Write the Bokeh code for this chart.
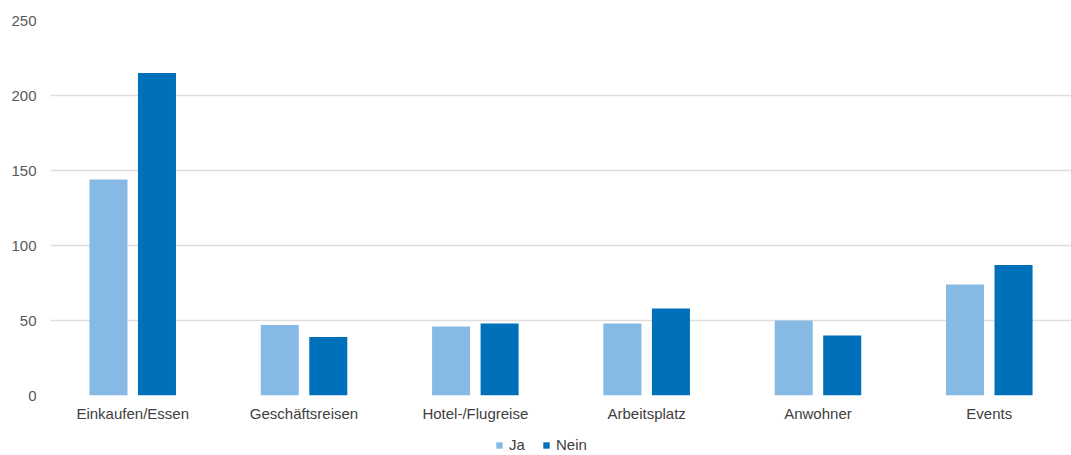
from bokeh.plotting import figure
from bokeh.layouts import column
from bokeh.models import ColumnDataSource, FactorRange, Legend, LegendItem, SingleIntervalTicker
from bokeh.transform import dodge
from bokeh.embed import file_html
from bokeh.resources import INLINE

categories = ["Einkaufen/Essen", "Geschäftsreisen", "Hotel-/Flugreise", "Arbeitsplatz", "Anwohner", "Events"]
ja = [144, 47, 46, 48, 50, 74]
nein = [215, 39, 48, 58, 40, 87]
series_names = ["Ja", "Nein"]

FONT = "Liberation Sans"
FONT_SIZE = "15px"
LIGHT = "#86B9E3"
DARK = "#0070BA"

source = ColumnDataSource(dict(cat=categories, ja=ja, nein=nein))


def add_bars(fig):
    r1 = fig.vbar(x=dodge("cat", -0.1416, range=fig.x_range), top="ja", width=0.222,
                  source=source, fill_color=LIGHT, line_color=None)
    r2 = fig.vbar(x=dodge("cat", 0.1416, range=fig.x_range), top="nein", width=0.222,
                  source=source, fill_color=DARK, line_color=None)
    return r1, r2


x_range = FactorRange(*categories, range_padding=-0.0067)

p = figure(
    frame_width=1021, frame_height=375,
    x_range=x_range, y_range=(0, 250),
    output_backend="svg", toolbar_location=None,
    min_border_left=50, min_border_right=0, min_border_top=20, min_border_bottom=28,
)
p.outline_line_color = None
p.border_fill_color = "white"

r_ja, r_nein = add_bars(p)

p.yaxis.ticker = SingleIntervalTicker(interval=50)
p.ygrid.grid_line_color = "#DEDEDE"
p.ygrid.grid_line_width = 1.5
p.xgrid.grid_line_color = None

for ax in (p.xaxis[0], p.yaxis[0]):
    ax.axis_line_color = None
    ax.major_tick_line_color = None
    ax.minor_tick_line_color = None
    ax.major_tick_out = 0
    ax.major_tick_in = 0
    ax.minor_tick_out = 0
    ax.major_label_text_font = FONT
    ax.major_label_text_font_size = FONT_SIZE

p.yaxis.major_label_standoff = 14
p.yaxis.major_label_text_color = "#595959"
p.xaxis.major_label_text_color = "#404040"
p.xaxis.major_label_standoff = 9

# strip under the chart that only carries the legend
leg = figure(
    frame_width=1071, frame_height=28,
    x_range=x_range, y_range=(1000, 1001),
    output_backend="svg", toolbar_location=None,
    min_border=0,
)
leg.axis.visible = False
leg.grid.grid_line_color = None
leg.outline_line_color = None
l_ja, l_nein = add_bars(leg)

legend = Legend(
    items=[LegendItem(label=series_names[0], renderers=[l_ja]),
           LegendItem(label=series_names[1], renderers=[l_nein])],
    orientation="horizontal", location=(495, -1),
    label_text_font=FONT, label_text_font_size=FONT_SIZE, label_text_color="#404040",
    glyph_width=8, glyph_height=8, spacing=13, label_standoff=6,
    border_line_color=None, background_fill_alpha=0,
    padding=0, margin=0, label_height=14,
)
leg.add_layout(legend, "center")

open("out.html", "w").write(file_html(column(p, leg, spacing=0), INLINE))
